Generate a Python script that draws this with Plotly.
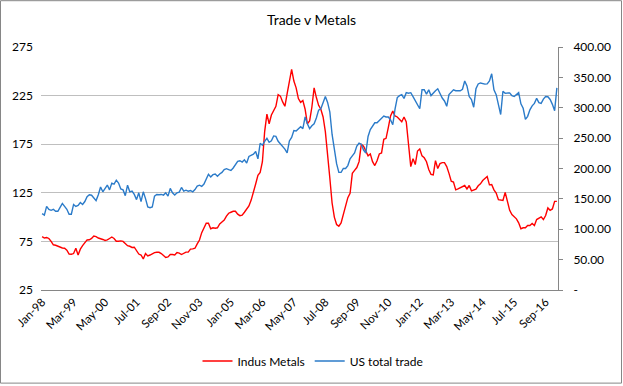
import plotly.graph_objects as go

# Monthly categories Jan-98 .. Feb-17 (230 months)
months = ["Jan", "Feb", "Mar", "Apr", "May", "Jun", "Jul", "Aug", "Sep", "Oct", "Nov", "Dec"]
categories = [f"{months[m]}-{(98 + y) % 100:02d}" for y in range(20) for m in range(12)][:230]

tick_labels = ["Jan-98", "Mar-99", "May-00", "Jul-01", "Sep-02", "Nov-03", "Jan-05", "Mar-06",
               "May-07", "Jul-08", "Sep-09", "Nov-10", "Jan-12", "Mar-13", "May-14", "Jul-15", "Sep-16"]

# Indus Metals (left axis)
indus_metals = [
    80, 78.5, 79, 78, 75, 71.5, 71, 70, 68.5, 68.2,
    68, 66, 62, 61.8, 62.5, 68, 61, 67, 70.6, 73.5,
    76.5, 76.7, 78, 80.5, 80, 78.5, 78, 77, 76, 76.5,
    78, 79.5, 78, 75.2, 75.2, 75.5, 75, 73, 70.6, 70,
    68.8, 69, 65, 62, 61, 57, 62.5, 60, 61, 62.5,
    63.5, 63.8, 63.8, 62.5, 60.5, 58.5, 59, 61.5, 61.5, 61,
    63.5, 63, 61.5, 63, 64, 64, 67, 67.3, 68, 72.5,
    76.4, 84, 88.3, 93.7, 93.7, 88, 89, 88.6, 89, 93,
    95, 97, 101, 104, 105, 106, 106, 103, 101.5, 102,
    105, 108, 111.5, 117.5, 125, 134, 143, 146, 157, 188,
    206, 196, 205, 209.5, 214, 226, 224.5, 218.5, 214, 227,
    240, 252, 240, 233, 222, 218, 220, 211, 196, 199,
    213, 233, 223, 215, 211, 203, 188, 167, 140, 114.5,
    100, 92.4, 90.7, 94, 103.5, 112, 120, 124.5, 145, 148,
    151, 157, 175, 173, 167, 163, 165, 157, 153, 158,
    165, 166, 180, 181, 192, 204, 209, 204, 203, 200,
    198, 203, 198, 175, 152, 160, 154, 168, 170, 163,
    161, 157, 149, 144, 143.5, 158, 150, 155, 156, 156,
    152, 145, 137, 136, 128, 129, 130, 131.5, 132.5, 129,
    132.5, 127, 128, 128.8, 132.2, 134.2, 137.6, 140, 141.7, 133.2,
    133.5, 128, 124.7, 117.9, 117.6, 117.2, 125.4, 116.2, 107, 102.6,
    100.2, 98.2, 94.1, 88, 89, 89, 91.4, 91.4, 93.4, 91.4,
    97.5, 99.2, 100.2, 97.5, 101.6, 109.4, 107, 108.4, 116.2, 116.2,
]

# US total trade (right axis)
us_total_trade = [
    125.8, 123.2, 137.6, 132.8, 131.2, 132.8, 129.6, 129.6, 136, 142.4,
    137.6, 132.8, 124.8, 124.8, 140.8, 137.6, 139.2, 144, 140.8, 145.6,
    153.6, 156.8, 156, 152, 147.2, 156.8, 169.6, 161.6, 166.4, 172.8,
    164.8, 176, 174.4, 180.8, 176, 166.4, 164.8, 155.2, 172.5, 161.6,
    162.7, 157.3, 148.8, 160, 145.6, 161.6, 150.4, 136.6, 135.5, 136.6,
    154.6, 157.3, 156.8, 157.3, 156.2, 160, 154.6, 167.2, 160, 156.2,
    160, 161.1, 168.8, 162.7, 164.3, 162.7, 163.8, 161.6, 165.4, 170.9,
    172.5, 170.4, 174.4, 184, 190.4, 186.1, 189.9, 191, 187.2, 191,
    193.6, 198.1, 199.7, 198.1, 196.8, 200.8, 207.4, 211.7, 212.8, 210.6,
    214.4, 209, 219.8, 222.4, 223.7, 228, 216, 241.6, 238.4, 244.8,
    249.6, 243.2, 245.6, 253.6, 252.8, 244.8, 240.8, 236, 232, 225.6,
    245.4, 251.2, 262.4, 261.8, 264.6, 268.8, 265.6, 284.8, 273.6, 265.6,
    270.4, 273.6, 283.2, 296, 298.4, 308.8, 318.4, 308.8, 292.8, 256,
    228.8, 208, 193.6, 193.6, 200, 200, 204.8, 216, 220.8, 225.6,
    236.8, 241.6, 240, 230.4, 225.6, 252.8, 264, 268.8, 275.2, 275.2,
    278.4, 281.6, 286.4, 284.8, 284.8, 280, 272, 297.6, 316.8, 320,
    321.6, 315.2, 324.8, 324, 324.8, 318.4, 312, 305.6, 298.4, 329.6,
    329.6, 322.4, 329.6, 320, 324.8, 328, 331.2, 323.2, 316, 311.2,
    302.4, 321.6, 326.4, 329.6, 328, 328, 328, 330.4, 344, 336,
    318.4, 313.6, 300.8, 331.2, 339.2, 340.8, 339.7, 338.9, 339.2, 344,
    356, 329.6, 321.6, 307.2, 288.8, 327.2, 324, 324.2, 324.5, 319.7,
    318.4, 321.6, 324.8, 306.4, 299.2, 280.8, 285.9, 296.6, 303.2, 307.2,
    315.5, 308.5, 307.2, 314.2, 318.4, 318.1, 313.6, 305.6, 295.2, 332.8,
]

left_ticks = [25, 75, 125, 175, 225, 275]
right_ticks = [0, 50, 100, 150, 200, 250, 300, 350, 400]
right_labels = ["-"] + [f"{v:.2f}" for v in right_ticks[1:]]

FONT = "Lato, 'Open Sans', sans-serif"
GRID = "#BFBFBF"
AXIS = "#868686"

fig = go.Figure()
fig.add_trace(go.Scatter(
    x=categories, y=indus_metals, name="Indus Metals", mode="lines",
    line=dict(color="#FF0000", width=1.4), yaxis="y",
))
fig.add_trace(go.Scatter(
    x=categories, y=us_total_trade, name="US total trade", mode="lines",
    line=dict(color="#2B7BC9", width=1.4), yaxis="y2",
))

L, R, T, B = 41, 65, 47, 95
W, H = 623, 386
pw, ph = W - L - R, H - T - B

fig.update_layout(
    width=W, height=H,
    margin=dict(l=L, r=R, t=T, b=B, pad=0),
    paper_bgcolor="white", plot_bgcolor="white",
    font=dict(family=FONT, size=12, color="#000000"),
    title=dict(text="Trade v Metals", x=0.5, xref="container", xanchor="center",
               y=1 - 20 / H, yref="container", yanchor="middle",
               font=dict(family=FONT, size=14, color="#000000")),
    xaxis=dict(
        type="category", categoryorder="array", categoryarray=categories,
        range=[-0.5, len(categories) - 0.5],
        tickmode="array", tickvals=tick_labels, ticktext=tick_labels,
        tickangle=-45, showgrid=False, zeroline=False,
        showline=True, linecolor=AXIS, linewidth=1, ticks="",
        tickfont=dict(family=FONT, size=11.5, color="#000000"),
    ),
    yaxis=dict(
        range=[25, 275], tickmode="array", tickvals=left_ticks,
        showgrid=True, gridcolor=GRID, gridwidth=1, zeroline=False,
        showline=False, ticks="", ticklabelstandoff=7,
        tickfont=dict(family=FONT, size=12, color="#000000"),
    ),
    yaxis2=dict(
        range=[0, 400], overlaying="y", side="right",
        tickmode="array", tickvals=right_ticks, ticktext=right_labels,
        showgrid=False, zeroline=False,
        showline=True, linecolor=AXIS, linewidth=1,
        ticks="outside", ticklen=4, tickcolor=AXIS, ticklabelstandoff=8,
        tickfont=dict(family=FONT, size=12, color="#000000"),
    ),
    legend=dict(
        orientation="h", x=(313 - L) / pw, xanchor="center",
        y=-(361 - (T + ph)) / ph, yanchor="middle",
        font=dict(family=FONT, size=12, color="#000000"),
        bgcolor="rgba(0,0,0,0)", itemwidth=30,
    ),
    showlegend=True,
)

# chart-area border (Excel style)
fig.add_shape(
    type="rect", xref="paper", yref="paper",
    x0=(0.5 - L) / pw, x1=(W - 1.5 - L) / pw,
    y0=-(H - 1.5 - (T + ph)) / ph, y1=1 + (T - 0.5) / ph,
    line=dict(color=AXIS, width=1), fillcolor="rgba(0,0,0,0)", layer="below",
)

fig.write_html(
    "out.html",
    config={"displayModeBar": False},
    post_script="document.body.style.margin='0px';document.body.style.overflow='hidden';",
)
